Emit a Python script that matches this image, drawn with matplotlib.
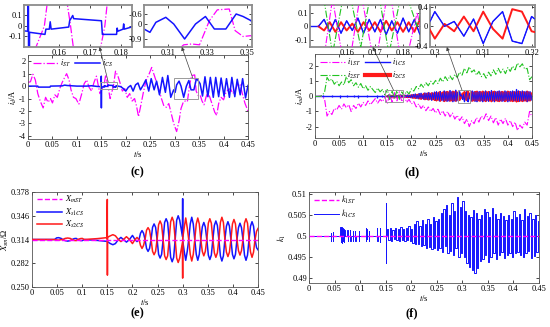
import numpy as np
import matplotlib
matplotlib.use('Agg')
import matplotlib.pyplot as plt
from matplotlib.patches import Rectangle, ConnectionPatch
from matplotlib.ticker import FuncFormatter

# ---------------- (c) currents i_ST / i_CS ----------------
c_t_st = [0, 0.005, 0.01, 0.015, 0.02, 0.025, 0.031, 0.036, 0.041, 0.046,
          0.05, 0.055, 0.06, 0.065, 0.07, 0.075, 0.079, 0.084, 0.088, 0.093,
          0.098, 0.104, 0.11, 0.115, 0.12, 0.125, 0.13, 0.135, 0.14, 0.147,
          0.1551, 0.159, 0.1636, 0.168, 0.1747, 0.179, 0.184, 0.188, 0.193, 0.198,
          0.203, 0.208, 0.213, 0.218, 0.222, 0.226, 0.231, 0.236, 0.242, 0.248,
          0.253, 0.258, 0.263, 0.268, 0.273, 0.278, 0.283, 0.288, 0.293, 0.298,
          0.304, 0.309, 0.313, 0.318, 0.322, 0.326, 0.331, 0.335, 0.341, 0.344,
          0.348, 0.352, 0.356, 0.36, 0.364, 0.368, 0.372, 0.377, 0.382, 0.386,
          0.39, 0.395, 0.4, 0.404, 0.409, 0.414, 0.419, 0.424, 0.429, 0.434,
          0.439, 0.444, 0.45]
c_i_st = [0.3, 0.35, 0.95, 0.5, -0.6, -1.2, -1.75, -0.9, -1.3, -1.0,
          -1.35, -0.7, -0.9, -0.2, 0.3, 0.7, 1.0, 0.5, -0.3, -0.9,
          -1.0, -1.45, -0.6, 0.2, 0.5, -0.1, -0.4, 0.3, 0.8, -0.6,
          0.0, 0.9, 0.0, -1.0, 0.0, 1.2, 0.8, 0.3, -0.4, -0.2,
          -0.9, -0.6, -1.2, -1.0, -1.6, -2.45, -1.5, -0.5, 0.5, 1.0,
          1.5, 0.9, 0.3, -0.3, -1.0, -1.6, -1.7, -1.4, -2.2, -3.0,
          -3.65, -2.8, -1.8, -1.25, -1.2, -1.25, 0.2, 0.85, 0.9, -0.4,
          -0.75, -0.7, -1.2, -1.5, -0.9, -0.5, -0.9, -1.5, -2.1, -2.35,
          -1.4, -0.9, -1.1, -0.6, -0.3, -0.2, -0.6, -0.3, 0.2, 0.1,
          -0.7, -1.4, -2.0]

c_t_cs = [0, 0.02, 0.021, 0.045, 0.046, 0.07, 0.075, 0.08, 0.1, 0.12,
          0.13, 0.14, 0.1497, 0.1499, 0.1501, 0.1503, 0.1553, 0.1556, 0.1567, 0.157,
          0.1573, 0.163, 0.1633, 0.1643, 0.1646, 0.1736, 0.1739, 0.1785, 0.1787, 0.1789,
          0.1806, 0.1808, 0.181, 0.1845, 0.19, 0.195, 0.2, 0.205, 0.21, 0.215,
          0.22, 0.225, 0.23, 0.236, 0.241, 0.247, 0.252, 0.258, 0.263, 0.269,
          0.275, 0.281, 0.286, 0.292, 0.298, 0.301, 0.304, 0.309, 0.313, 0.3185,
          0.324, 0.329, 0.3335, 0.3393, 0.3445, 0.348, 0.352, 0.357, 0.362, 0.368,
          0.373, 0.379, 0.384, 0.39, 0.395, 0.401, 0.406, 0.412, 0.417, 0.423,
          0.428, 0.434, 0.439, 0.445, 0.45]
c_i_cs = [0.0, 0.0, -0.08, -0.08, 0.0, 0.02, 0.08, 0.05, 0.0, 0.0,
          0.03, -0.02, -0.05, 0.8, -1.75, -0.06, -0.08, -0.03, -0.03, 0.04,
          -0.03, -0.01, 0.05, 0.1, 0.07, 0.05, -0.08, -0.08, -0.02, -0.05,
          -0.03, 0.02, -0.03, 0.0, -0.05, -0.2, -0.4, -0.1, 0.05, -0.4,
          0.1, 0.25, -0.3, 0.1, 0.5, -0.4, 0.6, -0.3, 0.4, -0.7,
          0.7, -0.5, 0.85, -0.9, -0.3, -0.5, 0.1, 0.4, 0.0, -0.9,
          0.0, 0.45, -0.3, -0.3, 0.6, 0.45, 0.2, -0.8, 0.75, -0.85,
          0.7, -0.9, 0.7, -0.85, 0.65, -0.8, 0.6, -0.9, 0.7, -0.85,
          0.55, -0.7, 0.6, -0.95, 0.05]

# ---------------- (d) currents i_1ST, i_2ST, i_1CS, i_2CS ----------------
# ST currents sampled every 5 ms from 0 to 0.45 s
d_i1st = [0.0, 0.0, 0.02, 0.0, -0.2, -1.3, -1.0, -1.2, -0.8, -0.9,
          -0.6, -0.85, -0.5, -0.75, -0.55, -1.0, -0.6, -0.8, -0.45, -0.7,
          -0.4, -0.6, -0.3, -0.55, -0.35, -0.15, -0.45, -0.2, -0.35, -0.05,
          -0.5, 0.2, -0.4, 0.25, -0.3, 0.3, -0.35, 0.1, -0.4, -0.2,
          -0.5, -0.35, -0.7, -0.5, -0.8, -0.6, -0.95, -0.7, -1.0, -0.8,
          -1.1, -0.85, -1.2, -0.95, -1.3, -1.0, -1.35, -1.1, -1.5, -1.25,
          -1.6, -1.35, -1.8, -1.5, -2.0, -1.6, -1.8, -1.4, -1.7, -1.3,
          -1.5, -1.15, -1.6, -1.3, -1.75, -1.4, -1.9, -1.5, -1.8, -1.45,
          -1.9, -1.6, -2.0, -1.7, -2.25, -1.9, -2.1, -1.7, -1.9, -1.0,
          -1.35]
d_i2st = [0.0, 0.0, 0.0, 0.05, 0.3, 1.25, 1.0, 1.15, 0.8, 1.0,
          0.7, 0.95, 0.75, 1.3, 0.9, 1.1, 0.7, 0.9, 0.6, 0.85,
          0.5, 0.7, 0.4, 0.65, 0.45, 0.25, 0.55, 0.3, 0.45, 0.1,
          0.45, -0.2, 0.35, -0.15, 0.4, -0.2, 0.3, 0.0, 0.35, 0.15,
          0.5, 0.35, 0.65, 0.5, 0.8, 0.6, 0.9, 0.7, 1.0, 0.8,
          1.05, 0.85, 1.2, 0.95, 1.3, 1.05, 1.35, 1.1, 1.45, 1.25,
          1.6, 1.4, 1.85, 1.55, 1.95, 1.6, 1.75, 1.4, 1.65, 1.3,
          1.5, 1.2, 1.6, 1.35, 1.75, 1.45, 1.85, 1.55, 1.8, 1.5,
          1.9, 1.65, 2.0, 1.75, 2.2, 1.95, 2.15, 1.8, 1.85, 1.1,
          1.3]

# CS currents: flat before 0.15 s (with short spikes), then sampled every 2 ms
d_pre_t = [0.0, 0.15]
d_pre_i = [0.0, 0.0]
d_spk_t = [0.017, 0.035, 0.052, 0.066, 0.08, 0.09, 0.107, 0.128, 0.138]
d_spk_hi = [0.08, 0.07, 0.08, 0.06, 0.08, 0.07, 0.08, 0.07, 0.08]
d_spk_lo = [-0.07, -0.06, -0.08, -0.07, -0.06, -0.08, -0.07, -0.08, -0.07]

d_i1cs = [0.0, 0.05, -0.04, 0.05, -0.05, 0.04, -0.03, 0.06, -0.05, 0.05,
          -0.04, 0.05, -0.06, 0.04, -0.05, 0.06, -0.04, 0.05, -0.06, 0.07,
          -0.05, 0.08, -0.07, 0.06, -0.08, 0.09,
          -0.1, 0.12, -0.08, 0.15, -0.12, 0.1, -0.15, 0.18, -0.12, 0.2,
          -0.15, 0.12, -0.2, 0.22, -0.18, 0.2, -0.22, 0.25, -0.2, 0.18,
          -0.25, 0.22, -0.2, 0.28, -0.25,
          0.3, -0.22, 0.25, -0.3, 0.32, -0.25, 0.2, -0.3, 0.35, -0.28,
          0.3, -0.32, 0.25, -0.3, 0.38, -0.25, 0.3, -0.35, 0.28, -0.3,
          0.4, -0.3, 0.25,
          -0.1, 0.3, 0.0, 0.1, -0.2, 0.15, -0.35, 0.1, 0.3, -0.3,
          -0.35, 0.2, 0.05,
          -0.3, 0.35, -0.25, 0.3, -0.32, 0.28, -0.35, 0.3, -0.25, 0.32,
          -0.3, 0.25, -0.35, 0.3, -0.28, 0.35, -0.3, 0.25, -0.32, 0.3,
          -0.25, 0.38, -0.3, 0.28, -0.35, 0.3, -0.25, 0.32, -0.3, 0.35,
          -0.28, 0.3, -0.32, 0.25, -0.3, 0.35, -0.25, 0.3, -0.35, 0.28,
          -0.3, 0.32, -0.25, 0.35, -0.3, 0.3, -0.28, 0.45, -0.3, 0.35,
          -0.32, 0.3, -0.28, 0.35, -0.3, 0.3, -0.25, 0.32, -0.35, 0.3,
          -0.28, 0.3, -0.25, 0.1]
d_i2cs = [0.0, -0.03, 0.03, -0.04, 0.03, -0.03, 0.02, -0.04, 0.03, -0.03,
          0.03, -0.04, 0.04, -0.03, 0.03, -0.04, 0.03, -0.04, 0.05, -0.05,
          0.04, -0.06, 0.05, -0.05, 0.06, -0.07,
          0.08, -0.1, 0.07, -0.12, 0.1, -0.08, 0.12, -0.15, 0.1, -0.18,
          0.12, -0.1, 0.18, -0.2, 0.15, -0.18, 0.2, -0.22, 0.18, -0.15,
          0.22, -0.2, 0.18, -0.25, 0.22,
          -0.28, 0.2, -0.22, 0.28, -0.3, 0.22, -0.18, 0.28, -0.32, 0.25,
          -0.28, 0.3, -0.22, 0.28, -0.3, 0.22, -0.28, 0.32, -0.25, 0.28,
          -0.3, 0.28, -0.22,
          0.1, -0.25, 0.05, -0.1, 0.2, -0.1, 0.3, -0.05, -0.25, 0.35,
          0.3, -0.1, -0.15,
          0.28, -0.3, 0.22, -0.28, 0.3, -0.25, 0.32, -0.28, 0.22, -0.3,
          0.28, -0.22, 0.32, -0.28, 0.25, -0.32, 0.28, -0.22, 0.3, -0.28,
          0.22, -0.33, 0.28, -0.25, 0.32, -0.28, 0.22, -0.3, 0.28, -0.32,
          0.25, -0.28, 0.3, -0.22, 0.28, -0.32, 0.22, -0.28, 0.32, -0.25,
          0.28, -0.3, 0.22, -0.32, 0.28, -0.28, 0.25, -0.35, 0.28, -0.32,
          0.3, -0.28, 0.25, -0.32, 0.28, -0.28, 0.22, -0.3, 0.32, -0.28,
          0.25, -0.28, 0.22, -0.1]

# ---------------- (e) reactances ----------------
e_t = [0.0, 0.045, 0.049, 0.053, 0.058, 0.061, 0.066, 0.071, 0.076, 0.08,
       0.084, 0.088, 0.091, 0.096, 0.1, 0.104, 0.112, 0.13, 0.149, 0.1499,
       0.1501, 0.1503, 0.156, 0.161, 0.166, 0.172, 0.177, 0.182, 0.188, 0.194,
       0.2, 0.205, 0.209, 0.213, 0.216, 0.219, 0.222, 0.225, 0.228, 0.231,
       0.234, 0.237, 0.24, 0.243, 0.246, 0.249, 0.252, 0.255, 0.258, 0.261,
       0.264, 0.267, 0.27, 0.273, 0.276, 0.279, 0.282, 0.285, 0.288, 0.291,
       0.294, 0.2995, 0.2999, 0.3001, 0.303, 0.306, 0.309, 0.312, 0.315, 0.318,
       0.321, 0.324, 0.327, 0.33, 0.333, 0.336, 0.339, 0.342, 0.345, 0.348,
       0.351, 0.354, 0.357, 0.36, 0.363, 0.366, 0.369, 0.372, 0.375, 0.378,
       0.381, 0.384, 0.387, 0.39, 0.393, 0.396, 0.399, 0.402, 0.405, 0.408,
       0.411, 0.414, 0.417, 0.42, 0.423, 0.426, 0.429, 0.432, 0.435, 0.438,
       0.441, 0.444, 0.447, 0.45]
e_xs1 = [0.314, 0.314, 0.3162, 0.3165, 0.3155, 0.314, 0.3125, 0.3118, 0.3125, 0.314,
         0.3152, 0.3155, 0.314, 0.3127, 0.3125, 0.314, 0.3136, 0.3128, 0.3115, 0.3113,
         0.3113, 0.311, 0.3085, 0.307, 0.3085, 0.314, 0.3168, 0.314, 0.3105, 0.314,
         0.3195, 0.314, 0.3112, 0.314, 0.3225, 0.326, 0.3225, 0.314, 0.302, 0.298,
         0.302, 0.314, 0.3305, 0.335, 0.3305, 0.314, 0.294, 0.289, 0.294, 0.314,
         0.337, 0.342, 0.337, 0.314, 0.29, 0.284, 0.29, 0.314, 0.34, 0.346,
         0.34, 0.318, 0.369, 0.312, 0.298, 0.286, 0.298, 0.314, 0.335, 0.344,
         0.335, 0.314, 0.294, 0.286, 0.294, 0.314, 0.331, 0.337, 0.331, 0.314,
         0.293, 0.287, 0.293, 0.314, 0.333, 0.339, 0.333, 0.314, 0.292, 0.285,
         0.292, 0.314, 0.332, 0.338, 0.332, 0.314, 0.294, 0.288, 0.294, 0.314,
         0.33, 0.336, 0.33, 0.314, 0.293, 0.286, 0.293, 0.314, 0.332, 0.338,
         0.332, 0.314, 0.303, 0.3]
e_xs2 = [0.314, 0.314, 0.3135, 0.3132, 0.3138, 0.314, 0.3155, 0.316, 0.3155, 0.314,
         0.3128, 0.3125, 0.314, 0.3152, 0.3155, 0.314, 0.3144, 0.3152, 0.3165, 0.368,
         0.266, 0.317, 0.319, 0.3205, 0.319, 0.314, 0.3112, 0.314, 0.3178, 0.314,
         0.3085, 0.314, 0.3168, 0.314, 0.306, 0.302, 0.306, 0.314, 0.3265, 0.33,
         0.3265, 0.314, 0.298, 0.2935, 0.298, 0.314, 0.334, 0.339, 0.334, 0.314,
         0.292, 0.287, 0.292, 0.314, 0.338, 0.344, 0.338, 0.314, 0.289, 0.283,
         0.289, 0.31, 0.262, 0.316, 0.33, 0.343, 0.33, 0.314, 0.294, 0.285,
         0.294, 0.314, 0.335, 0.343, 0.335, 0.314, 0.298, 0.292, 0.298, 0.314,
         0.336, 0.342, 0.336, 0.314, 0.296, 0.29, 0.296, 0.314, 0.337, 0.344,
         0.337, 0.314, 0.297, 0.291, 0.297, 0.314, 0.335, 0.341, 0.335, 0.314,
         0.299, 0.293, 0.299, 0.314, 0.336, 0.342, 0.336, 0.314, 0.297, 0.29,
         0.297, 0.314, 0.325, 0.329]
e_xm_t = [0.0, 0.45]
e_xm = [0.314, 0.314]

# ---------------- (f) coefficient k1 ----------------
f_t_pre = [0.0, 0.042, 0.0422, 0.0428, 0.0434, 0.0465, 0.0467, 0.0473, 0.0479,
           0.061, 0.0612, 0.0622, 0.0632, 0.0642, 0.0652, 0.0662, 0.0672, 0.0682, 0.0692, 0.07,
           0.075, 0.0752, 0.0758, 0.0764, 0.08, 0.0802, 0.0808, 0.0814, 0.085, 0.0852, 0.0858, 0.0864,
           0.09, 0.0902, 0.0908, 0.0914, 0.097, 0.0972, 0.0978, 0.0984,
           0.111, 0.1112, 0.1118, 0.1124, 0.113, 0.1136, 0.117, 0.1172, 0.1178, 0.1184,
           0.133, 0.1332, 0.1338, 0.1344, 0.138, 0.1382, 0.1388, 0.1394,
           0.1496, 0.1498, 0.1502, 0.1504]
f_k_pre = [0.5, 0.5, 0.5008, 0.4987, 0.5, 0.5, 0.5009, 0.4988, 0.5,
           0.5, 0.5022, 0.4985, 0.5022, 0.4983, 0.502, 0.4987, 0.5018, 0.4985, 0.5015, 0.5,
           0.5, 0.5015, 0.4988, 0.5, 0.5, 0.5014, 0.4987, 0.5, 0.5, 0.5013, 0.4988, 0.5,
           0.5, 0.5012, 0.4989, 0.5, 0.5, 0.5012, 0.4988, 0.5,
           0.5, 0.502, 0.4988, 0.5016, 0.4992, 0.5, 0.5, 0.5013, 0.4989, 0.5,
           0.5, 0.5019, 0.4988, 0.5, 0.5, 0.5019, 0.4986, 0.5,
           0.5, 0.5079, 0.4935, 0.5]
# deviation from 0.5 in units of 1e-3, from 0.1525 s to 0.45 s
f_dk_post = [1.8, -1.0, 2.0, -1.2, 1.5, -0.8, 2.0, -1.0, 1.8, -1.2,
             2.2, -0.9, 1.6, -1.1, 2.0, -1.0, 2.3, -1.3, 1.8,
             -1.6, 2.8, -2.0, 3.5, -1.8, 2.5, -2.5, 3.8, -2.2, 3.0,
             -3.0, 4.0, -2.6, 2.8, -3.2, 4.5, -2.8, 3.6, -3.4,
             4.2, -3.0, 5.5, -3.8, 6.5, -2.5, 7.5, -4.0, 5.0, -3.5,
             8.0, -4.5, 6.0, -3.0, 9.5, -5.0, 7.0, -4.2, 8.5,
             -5.0, 6.0, -6.5, 5.0, -7.5, 4.5, -8.2, 6.2, -9.0, 5.5,
             -7.8, 4.2, -6.0, 5.0, -5.5, 6.5, -4.5, 5.8, -6.2,
             4.5, -5.0, 6.8, -4.0, 5.2, -5.5, 4.0, -4.5, 5.5, -3.8,
             4.8, -5.2, 3.8, -4.5, 5.0, -4.0, 4.2, -5.0, 6.0,
             -4.2, 4.5, -3.8, 5.2, -4.5, 3.8, -5.0, 6.5, -4.0, 4.8,
             -3.5, 5.5, -5.2, 4.0, -4.8, 5.0, -3.8, 3.5, -2.5]
f_k1st_t = [0.0, 0.45]
f_k1st = [0.5, 0.5]

# ---------------- style ----------------
plt.rcParams['font.family'] = ['Liberation Serif', 'DejaVu Serif']
plt.rcParams['mathtext.fontset'] = 'stix'
plt.rcParams['font.size'] = 6
plt.rcParams['xtick.direction'] = 'in'
plt.rcParams['ytick.direction'] = 'in'
plt.rcParams['xtick.top'] = True
plt.rcParams['ytick.right'] = True
plt.rcParams['xtick.major.size'] = 2
plt.rcParams['ytick.major.size'] = 2
plt.rcParams['xtick.major.width'] = 0.5
plt.rcParams['ytick.major.width'] = 0.5
plt.rcParams['xtick.major.pad'] = 1.5
plt.rcParams['ytick.major.pad'] = 1.5
plt.rcParams['axes.linewidth'] = 0.6
plt.rcParams['axes.edgecolor'] = '#555555'

MAG = '#ff00ff'
BLUE = '#1414ff'
RED = '#ff1a1a'
GREEN = '#22c322'

fig = plt.figure(figsize=(5.5, 3.27), dpi=100)


def frame(ax, xlim, ylim, xticks, yticks, yfmt='{:g}', inset=False):
    ax.set_xlim(*xlim)
    ax.set_ylim(*ylim)
    ax.set_xticks(xticks)
    ax.set_yticks(yticks)
    ax.xaxis.set_major_formatter(FuncFormatter(lambda v, p: '{:g}'.format(round(v, 4))))
    ax.yaxis.set_major_formatter(FuncFormatter(lambda v, p: yfmt.format(round(v, 4))))
    if inset:
        for s in ax.spines.values():
            s.set_color('#8c8c8c')
            s.set_linewidth(1.3)


def zoom_link(ax, ins, rect, xy_a, xb):
    ax.add_patch(Rectangle(rect[:2], rect[2], rect[3], fill=False,
                           ec='#9a9a9a', lw=0.7, zorder=6))
    con = ConnectionPatch(xyA=xy_a, coordsA=ax.transData, xyB=(xb, 0),
                          coordsB=ins.transAxes, arrowstyle='-|>',
                          mutation_scale=5, color='#404040', lw=0.5)
    fig.add_artist(con)


xt_main = [0, 0.05, 0.1, 0.15, 0.2, 0.25, 0.3, 0.35, 0.4, 0.45]

# ---- (c) ----
ax_c = fig.add_axes([0.0509, 0.5749, 0.4, 0.2569])
ins_c1 = fig.add_axes([0.0436, 0.8563, 0.1964, 0.1284])
ins_c2 = fig.add_axes([0.2618, 0.8563, 0.1964, 0.1284])
for a in (ax_c, ins_c1, ins_c2):
    a.plot(c_t_st, c_i_st, color=MAG, ls='-.', lw=0.9, label='$i_{ST}$')
    a.plot(c_t_cs, c_i_cs, color=BLUE, lw=1.1, label='$i_{CS}$')
frame(ax_c, (0, 0.45), (-4.25, 2.5), xt_main, [-4, -3, -2, -1, 0, 1, 2])
frame(ins_c1, (0.1485, 0.1835), (-0.2, 0.2), [0.16, 0.17, 0.18], [-0.1, 0, 0.1], inset=True)
frame(ins_c2, (0.298, 0.3525), (-1.38, 1.14), [0.31, 0.33, 0.35], [-0.9, 0, 0.6], inset=True)
ax_c.set_xlabel('$t$/s', labelpad=0)
ax_c.set_ylabel('$i_d$/A', labelpad=0)
ax_c.legend(ncol=2, loc='upper left', bbox_to_anchor=(0.0, 1.03), frameon=False,
            handlelength=3, columnspacing=0.4, handletextpad=0.3, borderaxespad=0.2)
zoom_link(ax_c, ins_c1, (0.147, -0.25, 0.035, 0.6), (0.164, 0.35), 0.70)
zoom_link(ax_c, ins_c2, (0.298, -1.05, 0.05, 1.7), (0.337, 0.65), 0.35)

# ---- (d) ----
d_t_st = np.linspace(0, 0.45, len(d_i1st))
d_t_cs = np.linspace(0.15, 0.45, len(d_i1cs))
ax_d = fig.add_axes([0.5727, 0.578, 0.3945, 0.257])
ins_d1 = fig.add_axes([0.5636, 0.8563, 0.2, 0.1284])
ins_d2 = fig.add_axes([0.7818, 0.8563, 0.1909, 0.1284])
for a in (ax_d, ins_d1, ins_d2):
    h1, = a.plot(d_t_cs, d_i1cs, color=BLUE, lw=1.0, label='$i_{1CS}$', zorder=2)
    a.plot(d_pre_t, d_pre_i, color=BLUE, lw=1.0, zorder=2)
    a.vlines(d_spk_t, d_spk_lo, d_spk_hi, color=BLUE, lw=0.9, zorder=2)
    h2, = a.plot(d_t_cs, d_i2cs, color=RED, lw=1.4, label='$i_{2CS}$', zorder=3)
    g1, = a.plot(d_t_st, d_i1st, color=MAG, ls='-.', lw=0.8, label='$i_{1ST}$', zorder=4)
    g2, = a.plot(d_t_st, d_i2st, color=GREEN, ls='-.', lw=0.8, label='$i_{2ST}$', zorder=4)
    # blue on top in the main view so both colours stay visible
    a.plot(d_t_cs, d_i1cs, color=BLUE, lw=0.6, zorder=3.5)
frame(ax_d, (0, 0.45), (-2.75, 2.8), xt_main, [-2, -1, 0, 1, 2])
frame(ins_d1, (0.147, 0.186), (-0.15, 0.155), [0.16, 0.17, 0.18], [-0.1, 0, 0.1], inset=True)
frame(ins_d2, (0.299, 0.3207), (-0.42, 0.435), [0.3, 0.31, 0.32], [-0.4, 0, 0.4], inset=True)
ax_d.set_xlabel('$t$/s', labelpad=0)
ax_d.set_ylabel('$i_{ad}$/A', labelpad=0)
red_handle = plt.Line2D([], [], color=RED, lw=3)
ax_d.legend([g1, g2, h1, red_handle], ['$i_{1ST}$', '$i_{2ST}$', '$i_{1CS}$', '$i_{2CS}$'],
            ncol=2, loc='upper left', bbox_to_anchor=(0.0, 1.03), frameon=False,
            handlelength=3, columnspacing=0.4, handletextpad=0.3, borderaxespad=0.2,
            labelspacing=0.3)
zoom_link(ax_d, ins_d1, (0.146, -0.4, 0.036, 0.8), (0.163, 0.4), 0.57)
zoom_link(ax_d, ins_d2, (0.296, -0.42, 0.026, 0.82), (0.305, 0.4), 0.16)

# ---- (e) ----
ax_e = fig.add_axes([0.0582, 0.1223, 0.411, 0.2905])
ax_e.plot(e_t, e_xs1, color=BLUE, lw=1.1, label='$X_{s1CS}$', zorder=2)
ax_e.plot(e_t, e_xs2, color=RED, lw=1.1, label='$X_{s2CS}$', zorder=3)
ax_e.plot(e_xm_t, e_xm, color=MAG, ls='--', lw=1.0, label='$X_{mST}$', zorder=4)
frame(ax_e, (0, 0.45), (0.25, 0.378), xt_main, [0.25, 0.282, 0.314, 0.346, 0.378], yfmt='{:.3f}')
ax_e.set_xlabel('$t$/s', labelpad=0)
ax_e.set_ylabel('$X_{sm}$/Ω', labelpad=0)
hs, ls = ax_e.get_legend_handles_labels()
ax_e.legend([hs[2], hs[0], hs[1]], [ls[2], ls[0], ls[1]], loc='upper left',
            bbox_to_anchor=(0.0, 1.03), frameon=False, handlelength=3,
            handletextpad=0.3, labelspacing=0.15, borderaxespad=0.2)

# ---- (f) ----
f_t_post = np.linspace(0.1525, 0.45, len(f_dk_post))
f_k_post = 0.5 + np.array(f_dk_post) / 1000
ax_f = fig.add_axes([0.5618, 0.1346, 0.418, 0.2783])
ax_f.plot(np.concatenate([f_t_pre, f_t_post]), np.concatenate([f_k_pre, f_k_post]),
          color=BLUE, lw=0.7, drawstyle='steps-post', label='$k_{1CS}$', zorder=2)
ax_f.plot(f_k1st_t, f_k1st, color=MAG, ls='--', lw=1.0, label='$k_{1ST}$', zorder=3)
frame(ax_f, (0, 0.45), (0.4887, 0.5106), xt_main, [0.49, 0.495, 0.5, 0.505, 0.51])
ax_f.set_xlabel('$t$/s', labelpad=0)
ax_f.set_ylabel('$k_1$', labelpad=0)
hs, ls = ax_f.get_legend_handles_labels()
ax_f.legend([hs[1], hs[0]], [ls[1], ls[0]], loc='upper left', bbox_to_anchor=(0.0, 1.03),
            frameon=False, handlelength=3, handletextpad=0.3, labelspacing=0.15,
            borderaxespad=0.2)

# panel labels
for x, y, s in [(0.249, 0.474, '(c)'), (0.749, 0.474, '(d)'),
                (0.249, 0.043, '(e)'), (0.749, 0.043, '(f)')]:
    fig.text(x, y, s, ha='center', va='center', fontsize=9, fontweight='bold')

fig.savefig('out.png', dpi=100, facecolor='white')
